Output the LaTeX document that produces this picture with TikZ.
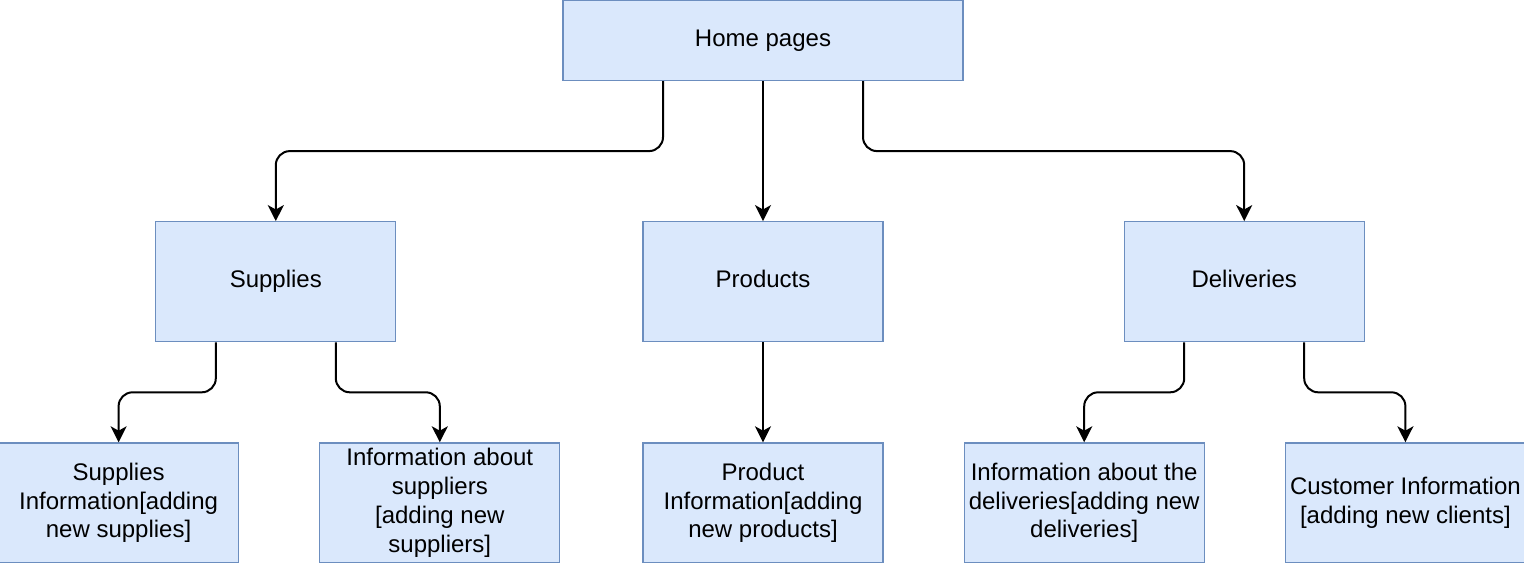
\documentclass[tikz,border=0pt]{standalone}
\usepackage{fontspec}
\setmainfont{Liberation Sans}
\usetikzlibrary{arrows.meta, positioning}
\definecolor{pagefill}{RGB}{218,232,252}
\definecolor{pageline}{RGB}{108,142,191}

\begin{document}
\begin{tikzpicture}[
  font=\fontsize{12}{14.4}\selectfont,
  page/.style={draw=pageline, fill=pagefill, line width=0.6pt, align=center,
               minimum width=120pt, minimum height=60pt, inner sep=1pt},
  oneline/.style={text height=8.6pt, text depth=2.6pt},
  flow/.style={-{Stealth[length=8pt, width=8pt, inset=2.2pt]}, line width=1pt,
               rounded corners=7pt},
]
\useasboundingbox (0,0) rectangle (762pt,-281pt);

\node[page, oneline, minimum width=200pt, minimum height=40pt] (home) at (381.5pt,-20.25pt) {Home pages};

\node[page, oneline, below=70pt of home] (prod) {Products};
\node[page, oneline, left=123pt of prod] (sup) {Supplies};
\node[page, oneline, right=120pt of prod] (del) {Deliveries};

\node[page, below=50pt of prod] (prodinfo) {Product\\Information[adding\\new products]};
\node[page, left=41pt of prodinfo] (supplinfo) {Information about\\suppliers\\{[adding new}\\suppliers]};
\node[page, left=40pt of supplinfo] (supinfo) {Supplies\\Information[adding\\new supplies]};
\node[page, right=40pt of prodinfo] (delinfo) {Information about the\\deliveries[adding new\\deliveries]};
\node[page, right=40pt of delinfo] (custinfo) {Customer Information\\{[adding new clients]}};

% home -> level 1
\draw[flow] ([xshift=-50pt]home.south) -- ++(0,-35pt) -| (sup.north);
\draw[flow] (home) -- (prod);
\draw[flow] ([xshift=50pt]home.south) -- ++(0,-35pt) -| (del.north);

% level 1 -> level 2
\draw[flow] ([xshift=-30pt]sup.south) -- ++(0,-25pt) -| (supinfo.north);
\draw[flow] ([xshift=30pt]sup.south) -- ++(0,-25pt) -| (supplinfo.north);
\draw[flow] (prod) -- (prodinfo);
\draw[flow] ([xshift=-30pt]del.south) -- ++(0,-25pt) -| (delinfo.north);
\draw[flow] ([xshift=30pt]del.south) -- ++(0,-25pt) -| (custinfo.north);
\end{tikzpicture}
\end{document}
